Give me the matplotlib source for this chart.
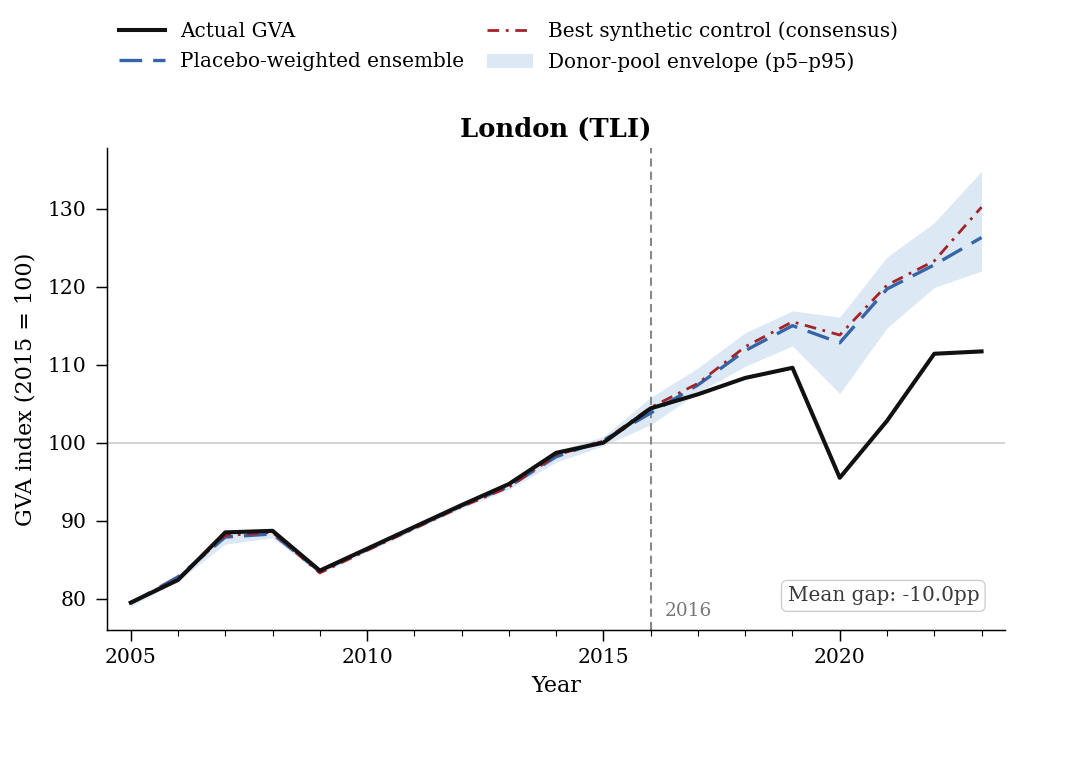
import matplotlib.pyplot as plt
from matplotlib.ticker import MultipleLocator

# ---------------- Data ----------------
years = list(range(2005, 2024))

actual = [79.5, 82.4, 88.5, 88.7, 83.6, 86.4, 89.2, 92.0, 94.7, 98.7, 100.0,
          104.4, 106.2, 108.3, 109.6, 95.5, 102.8, 111.4, 111.7]

ensemble = [79.4, 82.8, 87.9, 88.3, 83.5, 86.3, 89.1, 91.9, 94.4, 98.2, 100.3,
            103.8, 107.4, 111.8, 115.0, 112.8, 119.7, 122.8, 126.3]

best_sc = [79.5, 82.6, 88.1, 88.5, 83.3, 86.2, 89.0, 91.8, 94.3, 98.4, 100.2,
           104.5, 107.6, 112.3, 115.5, 113.8, 120.2, 123.3, 130.2]

env_lo = [79.0, 82.3, 87.0, 87.8, 83.2, 86.0, 88.8, 91.6, 94.0, 97.5, 99.6,
          102.3, 106.4, 109.8, 112.4, 106.3, 114.7, 119.9, 122.0]
env_hi = [79.8, 83.1, 88.6, 88.8, 83.9, 86.7, 89.6, 92.3, 94.8, 98.9, 100.8,
          105.8, 109.6, 114.1, 116.9, 116.1, 123.8, 128.2, 134.8]

TREAT_YEAR = 2016
MEAN_GAP = -10.0

# ---------------- Plot ----------------
plt.rcParams["font.family"] = "DejaVu Serif"

DPI = 1082 / 8.115
fig = plt.figure(figsize=(8.115, 5.685), dpi=DPI)
ax = fig.add_axes([0.099, 0.169, 0.83, 0.636])

ax.fill_between(years, env_lo, env_hi, color="#c6dbed", alpha=0.6, lw=0,
                label="Donor-pool envelope (p5\u2013p95)")
ax.plot(years, actual, color="#111111", lw=2.2, label="Actual GVA", zorder=5)
ax.plot(years, ensemble, color="#3565a8", lw=1.8, ls=(0, (6.8, 3.3)),
        label="Placebo-weighted ensemble", zorder=4)
ax.plot(years, best_sc, color="#a4232a", lw=1.5, ls=(0, (4.2, 2.4, 1, 2.4)),
        label="Best synthetic control (consensus)", zorder=4)

ax.axhline(100, color="#cccccc", lw=0.9, zorder=1)
ax.axvline(TREAT_YEAR, color="#888888", lw=1.1, ls=(0, (4, 2.5)), zorder=2)
ax.text(TREAT_YEAR + 0.3, 77.8, str(TREAT_YEAR), color="#777777", fontsize=10)

ax.text(0.971, 0.0705, f"Mean gap: {MEAN_GAP:.1f}pp", transform=ax.transAxes,
        ha="right", va="center", fontsize=10.8, color="#3a3a3a",
        bbox=dict(boxstyle="round,pad=0.3", fc="white", ec="#cccccc", lw=0.7))

ax.set_xlim(2004.5, 2023.5)
ax.set_ylim(76.0, 137.8)
ax.xaxis.set_major_locator(MultipleLocator(5))
ax.xaxis.set_minor_locator(MultipleLocator(1))
ax.yaxis.set_major_locator(MultipleLocator(10))
ax.tick_params(axis="both", labelsize=11, length=6)
ax.tick_params(axis="y", pad=5)
ax.tick_params(axis="x", pad=4)
ax.tick_params(axis="x", which="minor", length=3.5)

ax.spines["top"].set_visible(False)
ax.spines["right"].set_visible(False)

ax.set_xlabel("Year", fontsize=12)
ax.set_ylabel("GVA index (2015 = 100)", fontsize=12, labelpad=6)
ax.set_title("London (TLI)", fontsize=14, fontweight="bold", pad=6)

handles, labels = ax.get_legend_handles_labels()
order = [1, 2, 3, 0]
handles = [handles[i] for i in order]
labels = [labels[i] for i in order]
fig.legend(handles, labels, loc="upper left", bbox_to_anchor=(0.093, 0.995),
           ncol=2, frameon=False, fontsize=10.8, columnspacing=1.15,
           handlelength=2.3, handletextpad=0.75, labelspacing=0.52)

fig.savefig("out.png", dpi=DPI)
